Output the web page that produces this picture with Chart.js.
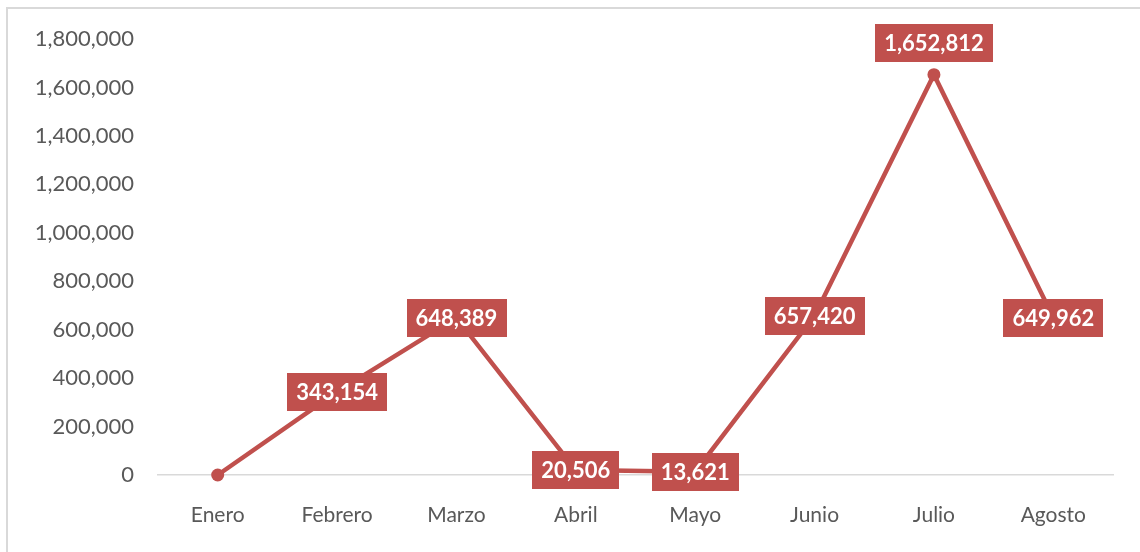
<!DOCTYPE html>
<html>
<head>
<meta charset="utf-8">
<script src="https://cdn.jsdelivr.net/npm/chart.js@4.4.1/dist/chart.umd.min.js"></script>
<style>
  html, body { margin: 0; padding: 0; background: #ffffff; }
  #wrap { position: relative; width: 1140px; height: 552px; overflow: hidden; }
  canvas { position: absolute; left: 0; top: 0; }
</style>
</head>
<body>
<div id="wrap"><canvas id="c" width="1140" height="552"></canvas></div>
<script>
const categories = ['Enero', 'Febrero', 'Marzo', 'Abril', 'Mayo', 'Junio', 'Julio', 'Agosto'];
const values = [0, 343154, 648389, 20506, 13621, 657420, 1652812, 649962];
const yTicks = [0, 200000, 400000, 600000, 800000, 1000000, 1200000, 1400000, 1600000, 1800000];

const RED = '#C0504D';
const GREY = '#595959';
const FONT = 'Lato, "Open Sans", sans-serif';
const fmt = v => v.toLocaleString('en-US');

const frame = {
  id: 'frame',
  beforeDraw(chart) {
    const ctx = chart.ctx;
    ctx.save();
    ctx.strokeStyle = '#d9d9d9';
    ctx.lineWidth = 2;
    ctx.beginPath();
    ctx.moveTo(7, 552);
    ctx.lineTo(7, 8);
    ctx.lineTo(1140, 8);
    ctx.stroke();
    ctx.restore();
  }
};

const valueLabels = {
  id: 'valueLabels',
  afterDatasetsDraw(chart) {
    const ctx = chart.ctx;
    const meta = chart.getDatasetMeta(0);
    const data = chart.data.datasets[0].data;
    const maxIdx = data.indexOf(Math.max(...data));
    ctx.save();
    ctx.font = 'bold 22px ' + FONT;
    ctx.textAlign = 'center';
    ctx.textBaseline = 'middle';
    meta.data.forEach((pt, i) => {
      const v = data[i];
      if (!v) return;
      const txt = fmt(v);
      const w = ctx.measureText(txt).width + 18;
      const h = 38;
      let cx = pt.x, cy = pt.y;
      if (i === maxIdx) cy = pt.y - 13 - h / 2;
      ctx.fillStyle = RED;
      ctx.fillRect(Math.round(cx - w / 2), Math.round(cy - h / 2), Math.round(w), h);
      ctx.fillStyle = '#ffffff';
      ctx.fillText(txt, cx, cy + 1);
    });
    ctx.restore();
  }
};

new Chart(document.getElementById('c'), {
  type: 'line',
  data: {
    labels: categories,
    datasets: [{
      data: values,
      borderColor: RED,
      backgroundColor: RED,
      borderWidth: 4.5,
      pointRadius: 6.5,
      pointHoverRadius: 6.5,
      pointBackgroundColor: RED,
      pointBorderWidth: 0,
      tension: 0,
      fill: false,
      clip: false
    }]
  },
  options: {
    responsive: false,
    animation: false,
    events: [],
    layout: { padding: { top: 39, right: 27, left: 0, bottom: 0 } },
    plugins: { legend: { display: false }, tooltip: { enabled: false } },
    scales: {
      y: {
        min: yTicks[0],
        max: yTicks[yTicks.length - 1],
        afterBuildTicks: s => { s.ticks = yTicks.map(v => ({ value: v })); },
        afterFit: s => { s.width = 158; },
        grid: { display: false },
        border: { display: false },
        ticks: {
          padding: 16,
          color: GREY,
          font: { family: FONT, size: 22 },
          callback: v => fmt(v)
        }
      },
      x: {
        offset: true,
        afterFit: s => { s.height = 77; },
        grid: { display: false },
        border: { display: true, color: '#d9d9d9', width: 1.5 },
        ticks: {
          padding: 20,
          color: GREY,
          font: { family: FONT, size: 21 },
          maxRotation: 0
        }
      }
    }
  },
  plugins: [frame, valueLabels]
});
</script>
</body>
</html>
